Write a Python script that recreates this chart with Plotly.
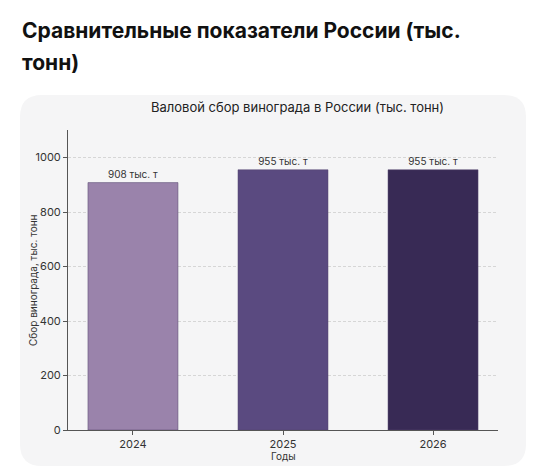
import plotly.graph_objects as go

# --- Data ---
years = ["2024", "2025", "2026"]
harvest = [908, 955, 955]
bar_labels = ["908 тыс. т", "955 тыс. т", "955 тыс. т"]
bar_colors = ["#9a83ab", "#5a4a80", "#382a55"]
y_ticks = [0, 200, 400, 600, 800, 1000]

# --- Page geometry (pixels, as seen in the page; the body adds 8px) ---
W, H = 550, 471
OFF = 8
PL, PR, PT, PB = 68, 498, 130, 430  # plot area box


def px(x):
    return (x - PL) / (PR - PL)


def py(y):
    return (PB - y) / (PB - PT)


def rounded_rect(x0, y0, x1, y1, r):
    # rounded rectangle path in paper coords, from pixel corners
    pts = [
        f"M {px(x0 + r)} {py(y0)}",
        f"L {px(x1 - r)} {py(y0)}",
        f"Q {px(x1)} {py(y0)} {px(x1)} {py(y0 + r)}",
        f"L {px(x1)} {py(y1 - r)}",
        f"Q {px(x1)} {py(y1)} {px(x1 - r)} {py(y1)}",
        f"L {px(x0 + r)} {py(y1)}",
        f"Q {px(x0)} {py(y1)} {px(x0)} {py(y1 - r)}",
        f"L {px(x0)} {py(y0 + r)}",
        f"Q {px(x0)} {py(y0)} {px(x0 + r)} {py(y0)}",
        "Z",
    ]
    return " ".join(pts)


font = "Inter, Noto Sans, sans-serif"

fig = go.Figure()
fig.add_trace(go.Bar(
    x=years,
    y=harvest,
    width=0.6,
    marker=dict(color=bar_colors, line=dict(color="#54476e", width=0.5)),
    text=bar_labels,
    textposition="outside",
    textfont=dict(size=10, color="#333333", family=font),
    cliponaxis=False,
))

fig.update_layout(
    width=W,
    height=H,
    margin=dict(l=PL - OFF, r=W - PR + OFF, t=PT - OFF, b=H - PB + OFF, pad=0),
    paper_bgcolor="white",
    plot_bgcolor="rgba(0,0,0,0)",
    showlegend=False,
    font=dict(family=font, color="#333333", size=11),
    xaxis=dict(
        type="category",
        range=[-0.433, 2.433],
        showline=True, linecolor="#555555", linewidth=1,
        ticks="outside", ticklen=4, tickcolor="#555555",
        tickfont=dict(size=11, color="#333333"),
        showgrid=False,
    ),
    yaxis=dict(
        range=[0, 1101],
        tickvals=y_ticks,
        showline=True, linecolor="#555555", linewidth=1,
        ticks="outside", ticklen=4, tickcolor="#555555",
        tickfont=dict(size=11, color="#333333"),
        showgrid=True, gridcolor="#d6d6d6", griddash="3px,2px", gridwidth=0.7,
        zeroline=False,
    ),
    shapes=[
        dict(type="path", xref="paper", yref="paper", layer="below",
             path=rounded_rect(20, 95, 526, 466, 22),
             fillcolor="#f5f5f6", line=dict(width=0)),
        dict(type="path", xref="paper", yref="paper", layer="below",
             path=rounded_rect(543, 106, 580, 152, 8),
             fillcolor="#f8f8f8", line=dict(color="#e2e2e2", width=1)),
    ],
    annotations=[
        dict(text="<b>Сравнительные показатели России (тыс.</b>",
             xref="paper", yref="paper", x=px(20), y=py(30),
             xanchor="left", yanchor="middle", showarrow=False,
             font=dict(size=21, color="#111111", family=font)),
        dict(text="<b>тонн)</b>",
             xref="paper", yref="paper", x=px(20), y=py(62),
             xanchor="left", yanchor="middle", showarrow=False,
             font=dict(size=21, color="#111111", family=font)),
        dict(text="Валовой сбор винограда в России (тыс. тонн)",
             xref="paper", yref="paper", x=px(297), y=py(107),
             xanchor="center", yanchor="middle", showarrow=False,
             font=dict(size=13, color="#222222", family=font)),
        dict(text="Сбор винограда, тыс. тонн",
             xref="paper", yref="paper", x=px(33), y=py(280),
             xanchor="center", yanchor="middle", showarrow=False,
             textangle=-90,
             font=dict(size=10, color="#333333", family=font)),
        dict(text="Годы",
             xref="paper", yref="paper", x=px(283), y=py(456),
             xanchor="center", yanchor="middle", showarrow=False,
             font=dict(size=10, color="#333333", family=font)),
    ],
)

fig.write_html("out.html")
